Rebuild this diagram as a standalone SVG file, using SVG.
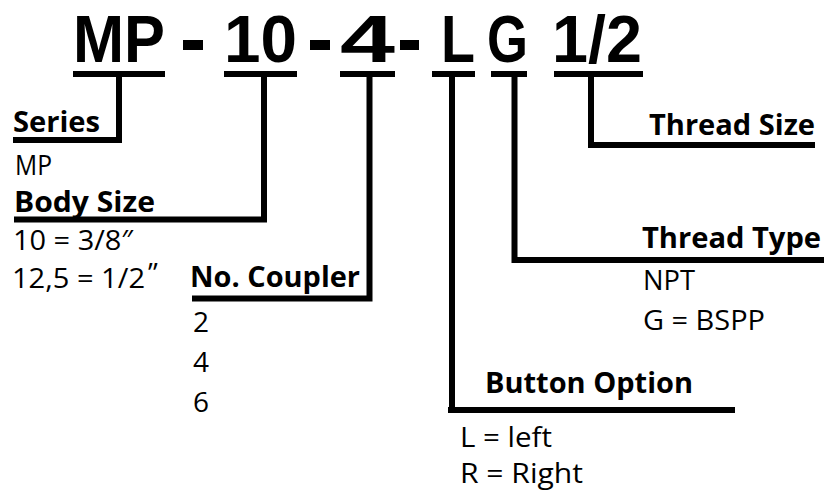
<svg xmlns="http://www.w3.org/2000/svg" width="824" height="492" viewBox="0 0 824 492">
<style>
text{font-family:"Open Sans","Noto Sans","Liberation Sans",sans-serif;fill:#000}
.t{font-family:"Liberation Sans",Arial,sans-serif;font-size:67px;font-weight:700}
.h{font-size:28px;font-weight:700}
.v{font-size:28px;font-weight:400}
.ln{stroke:#000;stroke-width:6;fill:none;stroke-linecap:butt}
</style>
<rect width="824" height="492" fill="#fff"/>
<g id="code">
<text class="t" x="73" y="62" textLength="92" lengthAdjust="spacingAndGlyphs">MP</text>
<rect x="183" y="40" width="20" height="10"/>
<text class="t" x="224" y="62" textLength="73" lengthAdjust="spacingAndGlyphs">10</text>
<rect x="310" y="40" width="20" height="10"/>
<text class="t" x="340" y="62" textLength="55" lengthAdjust="spacingAndGlyphs">4</text>
<rect x="400" y="40" width="19" height="10"/>
<text class="t" x="441" y="62" textLength="34" lengthAdjust="spacingAndGlyphs">L</text>
<text class="t" x="487" y="62" textLength="41" lengthAdjust="spacingAndGlyphs">G</text>
<text class="t" x="552" y="62" textLength="90" lengthAdjust="spacingAndGlyphs">1/2</text>
</g>
<g id="connectors">
<path class="ln" d="M73 74H165M119 74V140H13"/>
<path class="ln" d="M224 74H297M264 74V219.5H14"/>
<path class="ln" d="M340 74H395M369.5 74V298.5H192"/>
<path class="ln" d="M432 74H475M452 74V410H448H735"/>
<path class="ln" d="M491 74H527M514.5 74V260H824"/>
<path class="ln" d="M554 74H643M591 74V145H815"/>
</g>
<g id="series">
<text class="h" x="13" y="132" textLength="87" lengthAdjust="spacingAndGlyphs">Series</text>
<text class="v" x="15" y="175" textLength="37" lengthAdjust="spacingAndGlyphs">MP</text>
</g>
<g id="body-size">
<text class="h" x="14" y="212" textLength="141" lengthAdjust="spacingAndGlyphs">Body Size</text>
<text class="v" x="13" y="250" textLength="120" lengthAdjust="spacingAndGlyphs">10 = 3/8″</text>
<text class="v" x="12" y="288" textLength="133" lengthAdjust="spacingAndGlyphs">12,5 = 1/2</text>
<text class="v" x="148" y="283">”</text>
</g>
<g id="no-coupler">
<text class="h" x="190" y="287" textLength="170" lengthAdjust="spacingAndGlyphs">No. Coupler</text>
<text class="v" x="193" y="332">2</text>
<text class="v" x="193" y="372">4</text>
<text class="v" x="193" y="412">6</text>
</g>
<g id="button-option">
<text class="h" x="485" y="393" textLength="208" lengthAdjust="spacingAndGlyphs">Button Option</text>
<text class="v" x="460" y="447" textLength="92" lengthAdjust="spacingAndGlyphs">L = left</text>
<text class="v" x="460" y="483" textLength="123" lengthAdjust="spacingAndGlyphs">R = Right</text>
</g>
<g id="thread-type">
<text class="h" x="642" y="248" textLength="179" lengthAdjust="spacingAndGlyphs">Thread Type</text>
<text class="v" x="643" y="290" textLength="52" lengthAdjust="spacingAndGlyphs">NPT</text>
<text class="v" x="643" y="330" textLength="122" lengthAdjust="spacingAndGlyphs">G = BSPP</text>
</g>
<g id="thread-size">
<text class="h" x="649" y="135" textLength="166" lengthAdjust="spacingAndGlyphs">Thread Size</text>
</g>
</svg>
